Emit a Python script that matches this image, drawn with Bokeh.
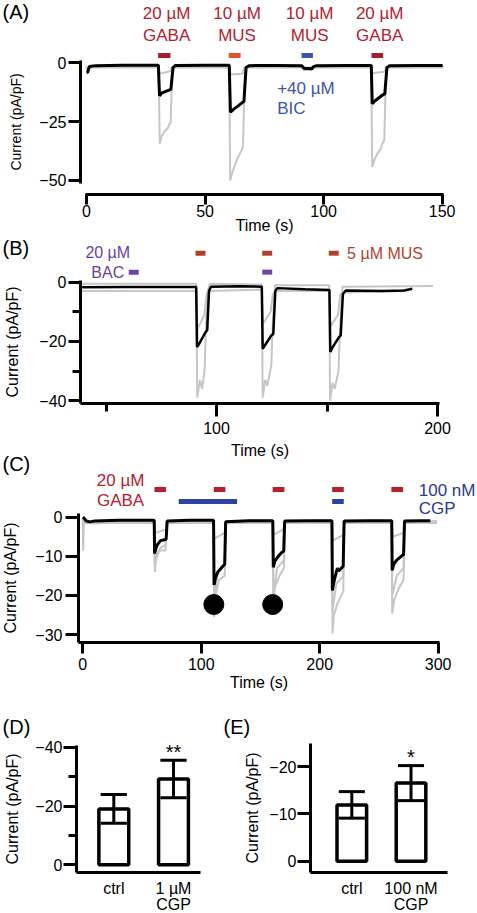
from bokeh.plotting import figure
from bokeh.layouts import column, row
from bokeh.models import Range1d, FixedTicker
from bokeh.core.properties import value
from bokeh.embed import file_html
from bokeh.resources import INLINE

FONT = "Liberation Sans"

# ---------------- data: panel A ----------------
A_t_black = [0.0, 0.5, 1.2, 4.0, 15.0, 30.3, 30.8, 31.8, 34.8, 35.6, 36.5, 37.5, 50.0,
             60.2, 60.7, 62.0, 65.6, 66.4, 67.3, 68.5, 80.0, 90.8, 91.6, 95.0, 95.8, 97.0,
             110.0, 120.1, 120.5, 121.6, 125.0, 125.8, 126.7, 128.0, 140.0, 150.2]
A_v_black = [-4.2, -4.0, -1.6, -1.2, -1.0, -1.0, -14.0, -12.8, -11.6, -11.2, -2.0, -1.1, -1.0,
             -1.0, -21.0, -19.8, -17.0, -16.4, -2.0, -1.2, -1.1, -1.2, -2.3, -2.5, -1.6, -1.2,
             -1.1, -1.1, -17.4, -16.2, -13.6, -13.2, -2.0, -1.2, -1.1, -1.1]
A_t_gray1 = [0.0, 0.3, 1.0, 15.0, 30.4, 30.9, 31.5, 33.0, 34.5, 34.9, 35.5, 36.1, 36.8, 50.0,
             60.2, 60.6, 61.5, 63.5, 65.5, 66.0, 66.8, 67.6, 80.0, 90.8, 91.6, 95.2, 96.0,
             110.0, 120.1, 120.5, 121.5, 123.0, 124.2, 124.6, 125.6, 126.3, 127.0, 140.0, 150.5]
A_v_gray1 = [-1.5, -3.0, -1.8, -1.7, -1.7, -34.4, -31.5, -29.0, -27.5, -26.0, -25.6, -3.0, -1.8, -1.7,
             -1.8, -50.0, -46.5, -41.0, -37.0, -35.5, -3.0, -1.9, -1.8, -1.8, -3.2, -3.0, -1.9,
             -1.8, -1.8, -44.3, -41.0, -38.0, -36.5, -34.5, -33.0, -3.0, -1.9, -1.8, -1.8]
A_t_gray2 = [0.0, 30.4, 31.0, 35.3, 36.0, 60.2, 60.8, 65.8, 66.6, 120.1, 120.7, 125.6, 126.3, 150.5]
A_v_gray2 = [-2.0, -2.0, -4.6, -3.6, -2.0, -2.0, -5.0, -4.6, -2.0, -2.0, -4.4, -3.8, -2.0, -2.0]
A_stim_start = [30.2, 60.0, 90.7, 120.2]
A_stim_end = [35.4, 65.0, 95.5, 125.1]
A_stim_line1 = ["20 µM", "10 µM", "10 µM", "20 µM"]
A_stim_line2 = ["GABA", "MUS", "MUS", "GABA"]
A_bic_text = ["+40 µM", "BIC"]
A_xticks = [0, 50, 100, 150]
A_yticks = [-50, -25, 0]

# ---------------- data: panel B ----------------
B_t_black = [39.2, 60.0, 90.8, 91.2, 92.0, 95.0, 95.8, 96.6, 97.5, 110.0, 120.5, 120.9, 122.0,
             124.8, 125.7, 126.6, 127.5, 140.0, 151.1, 151.5, 152.5, 155.4, 156.2, 157.2, 158.5,
             175.0, 185.0, 188.6]
B_v_black = [-1.7, -1.6, -1.6, -21.9, -21.0, -16.9, -16.2, -3.0, -1.5, -1.4, -1.5, -22.5, -21.2,
             -18.0, -17.5, -3.0, -2.0, -2.4, -2.6, -23.6, -22.0, -18.6, -18.0, -4.0, -2.8,
             -3.0, -2.8, -2.2]
B_t_gray1 = [39.0, 90.8, 91.3, 92.5, 93.5, 94.6, 95.3, 96.0, 97.0, 120.5, 120.9, 122.0, 123.0,
             124.8, 125.5, 126.5, 151.0, 151.4, 152.5, 153.5, 155.2, 156.0, 157.0, 198.0]
B_v_gray1 = [-0.5, -0.5, -39.0, -33.0, -36.0, -29.8, -13.0, -3.0, -0.5, -0.8, -39.0, -33.0, -35.0,
             -28.0, -13.0, -1.0, -1.0, -40.0, -34.0, -36.0, -30.0, -14.0, -1.5, -1.3]
B_t_gray2 = [39.0, 90.8, 91.3, 94.5, 95.5, 96.5, 120.5, 121.0, 124.5, 125.5, 126.5, 151.0, 151.5,
             155.0, 156.0, 158.0, 185.0]
B_v_gray2 = [-3.0, -3.0, -16.0, -11.0, -4.0, -3.0, -2.5, -14.0, -10.0, -4.0, -3.0, -3.0, -15.0,
             -11.0, -4.0, -3.5, -3.0]
B_mus_start = [90.5, 120.7, 150.8]
B_mus_end = [95.0, 125.2, 155.3]
B_bac_start = [60.3, 120.7]
B_bac_end = [64.8, 125.2]
B_xticks = [100, 200]
B_xminor = [50, 150]
B_yticks = [-40, -20, 0]
B_yminor = [-30, -10]

# ---------------- data: panel C ----------------
C_t_black = [0.0, 0.8, 3.0, 6.0, 10.0, 30.0, 60.3, 60.6, 61.5, 63.0, 65.6, 69.8, 70.4, 71.2, 90.0,
             110.4, 110.8, 112.0, 114.0, 119.0, 119.8, 120.6, 140.0, 160.4, 160.8, 162.0, 165.0,
             168.3, 169.6, 170.4, 190.0, 210.3, 210.7, 212.0, 214.0, 215.0, 216.0, 219.0, 219.8,
             220.6, 240.0, 260.8, 261.2, 262.5, 265.0, 269.5, 270.8, 271.6, 285.0, 293.4]
C_v_black = [0.0, -0.2, -1.0, -1.2, -1.0, -0.8, -0.8, -9.3, -8.2, -7.0, -6.0, -5.7, -5.5, -1.0, -0.8,
             -0.8, -17.3, -15.5, -14.0, -12.3, -12.0, -1.2, -0.9, -0.9, -12.8, -11.3, -10.0,
             -8.9, -8.7, -1.0, -0.9, -0.9, -18.7, -16.5, -14.0, -13.0, -13.7, -12.8, -12.5,
             -1.0, -0.9, -0.9, -13.6, -12.0, -11.0, -9.8, -9.6, -1.0, -0.9, -0.9]
C_t_gray1 = [0.0, 0.3, 0.8, 10.0, 30.0, 60.3, 60.8, 62.0, 64.0, 69.8, 70.6, 110.4, 110.9, 112.0,
             115.0, 119.8, 120.6, 160.4, 160.9, 162.0, 166.0, 169.8, 170.6, 210.4, 210.8, 212.0,
             215.0, 219.9, 220.6, 260.8, 261.2, 263.0, 267.0, 270.8, 271.6, 299.0]
C_v_gray1 = [-0.5, -8.5, -1.5, -1.6, -1.2, -1.0, -14.0, -10.0, -8.5, -8.5, -1.5, -1.0, -25.5, -20.0,
             -16.0, -15.0, -1.5, -1.0, -24.0, -18.0, -15.0, -13.0, -1.5, -1.0, -29.7, -25.0,
             -22.0, -19.0, -1.5, -1.0, -24.6, -21.0, -18.0, -16.0, -1.5, -1.0]
C_t_gray2 = [0.0, 60.3, 60.8, 65.0, 70.0, 70.6, 110.4, 110.9, 114.0, 119.8, 120.6, 160.4, 160.9,
             164.0, 169.8, 170.6, 210.4, 210.8, 214.0, 219.9, 220.6, 260.8, 261.2, 265.0, 270.8,
             271.6, 299.0]
C_v_gray2 = [-1.2, -1.2, -12.0, -8.0, -7.0, -1.2, -1.2, -21.0, -14.0, -12.0, -1.2, -1.2, -20.0,
             -13.0, -11.0, -1.2, -1.2, -24.0, -17.0, -15.0, -1.2, -1.2, -20.0, -15.0, -13.0,
             -1.2, -1.2]
C_t_gray3 = [0.0, 60.3, 61.0, 70.0, 70.6, 110.4, 111.0, 119.8, 120.6, 160.4, 161.0, 169.8, 170.6,
             210.4, 211.0, 219.9, 220.6, 260.8, 261.4, 270.8, 271.6, 299.0]
C_v_gray3 = [-1.5, -1.5, -4.0, -3.2, -1.5, -1.5, -5.5, -4.0, -1.5, -1.5, -4.5, -3.0, -1.5,
             -1.5, -6.0, -4.5, -1.5, -1.5, -5.0, -4.0, -1.5, -1.5]
C_gaba_start = [60.5, 110.6, 160.3, 210.5, 260.5]
C_gaba_end = [70.3, 120.4, 170.2, 220.3, 270.4]
C_cgp_start = [81.0, 210.5]
C_cgp_end = [130.3, 220.3]
C_dot_t = [110.6, 160.3]
C_dot_v = [-22.3, -22.3]
C_xticks = [0, 100, 200, 300]
C_yticks = [-30, -20, -10, 0]

# ---------------- data: panels D, E ----------------
D_groups = ["ctrl", "1 µM\nCGP"]
D_mean = [-19.0, -29.2]
D_sem = [4.9, 6.4]
D_sig = ["", "**"]
D_yticks = [-40, -20, 0]
D_yminor = [-30, -10]
E_groups = ["ctrl", "100 nM\nCGP"]
E_mean = [-11.9, -16.5]
E_sem = [2.8, 3.7]
E_sig = ["", "*"]
E_yticks = [-20, -10, 0]

GRAY = "#c6c6c6"
RED = "#b3202e"


def make_fig(w, h, xr, yr, yaxis_at, xaxis_at):
    # frame covers the whole canvas; axes are pinned at fixed data locations
    p = figure(width=w, height=h, x_range=Range1d(*xr), y_range=Range1d(*yr),
               min_border_left=0, min_border_right=0, min_border_top=0, min_border_bottom=0,
               toolbar_location=None, output_backend="svg", title=None)
    p.xgrid.visible = False
    p.ygrid.visible = False
    p.outline_line_color = None
    p.background_fill_color = None
    p.border_fill_color = None
    p.yaxis.fixed_location = yaxis_at
    p.xaxis.fixed_location = xaxis_at
    for ax in (p.xaxis[0], p.yaxis[0]):
        ax.axis_line_width = 3
        ax.axis_line_color = "black"
        ax.major_tick_line_width = 3
        ax.minor_tick_line_width = 3
        ax.major_tick_line_color = "black"
        ax.minor_tick_line_color = "black"
        ax.major_tick_in = 0
        ax.minor_tick_in = 0
        ax.major_label_text_font = FONT
        ax.major_label_text_font_size = "16px"
        ax.major_label_text_color = "black"
        ax.axis_label_text_font = FONT
        ax.axis_label_text_font_style = "normal"
        ax.axis_label_text_font_size = "16px"
        ax.axis_label_text_color = "black"
    return p


def txt(p, xs, ys, texts, color, size="17px", align="center"):
    p.text(x=xs, y=ys, text=texts, text_font=value(FONT), text_font_size=size,
           text_align=align, text_baseline="middle", text_color=color)


def panel_label(p, x, y, lab):
    txt(p, [x], [y], [lab], "black", size="20px", align="left")


# ================= Panel A =================
pA = make_fig(477, 250, (-36.27, 164.9), (-79.74, 26.47), -2.53, -55.95)
pA.xaxis.ticker = FixedTicker(ticks=A_xticks)
pA.yaxis.ticker = FixedTicker(ticks=A_yticks)
pA.xaxis.bounds = (-0.4, 150.5)
pA.yaxis.bounds = (-51.3, 1.0)
pA.xaxis.major_tick_out = 10
pA.yaxis.major_tick_out = 12
pA.xaxis.major_label_standoff = 0
pA.yaxis.major_label_standoff = 2
pA.xaxis.axis_label = "Time (s)"
pA.yaxis.axis_label = "Current (pA/pF)"
pA.yaxis.axis_label_text_font_size = "14px"
pA.xaxis.axis_label_standoff = -3
pA.yaxis.axis_label_standoff = 12
pA.line(A_t_gray2, A_v_gray2, line_color=GRAY, line_width=2)
pA.line(A_t_gray1, A_v_gray1, line_color=GRAY, line_width=2)
pA.line(A_t_black, A_v_black, line_color="black", line_width=3)
A_mid = [(a + b) / 2 for a, b in zip(A_stim_start, A_stim_end)]
pA.segment(x0=A_stim_start, x1=A_stim_end, y0=[3.1] * 4, y1=[3.1] * 4,
           line_color=["#a51e29", "#e2532c", "#3a55b0", "#a51e29"], line_width=5)
txt(pA, [m + 1 for m in A_mid], [20.8] * 4, A_stim_line1, RED)
txt(pA, [m + 1 for m in A_mid], [11.6] * 4, A_stim_line2, RED)
txt(pA, [A_stim_start[2] - 10.3] * 2, [-10.9, -19.4], A_bic_text, "#3f55a8", align="left")
panel_label(pA, -35.4, 21.4, "(A)")

# ================= Panel B =================
pB = make_fig(477, 230, (2.26, 218.1), (-62.26, 15.44), 38.46, -40.88)
pB.margin = (-14, 0, 0, 0)
pB.xaxis.ticker = FixedTicker(ticks=B_xticks, minor_ticks=B_xminor)
pB.yaxis.ticker = FixedTicker(ticks=B_yticks, minor_ticks=B_yminor)
pB.xaxis.bounds = (38.46, 201.0)
pB.yaxis.bounds = (-40.88, 0.6)
pB.xaxis.major_tick_out = 13
pB.xaxis.minor_tick_out = 8
pB.yaxis.major_tick_out = 12
pB.yaxis.minor_tick_out = 8
pB.xaxis.major_label_standoff = 6
pB.yaxis.major_label_standoff = 2
pB.xaxis.axis_label = "Time (s)"
pB.yaxis.axis_label = "Current (pA/pF)"
pB.xaxis.axis_label_standoff = 4
pB.yaxis.axis_label_standoff = 15
pB.line(B_t_gray2, B_v_gray2, line_color=GRAY, line_width=2)
pB.line(B_t_gray1, B_v_gray1, line_color=GRAY, line_width=2)
pB.line(B_t_black, B_v_black, line_color="black", line_width=2.5)
pB.segment(x0=B_mus_start, x1=B_mus_end, y0=[9.8] * 3, y1=[9.8] * 3, line_color="#b0402a", line_width=5)
pB.segment(x0=B_bac_start, x1=B_bac_end, y0=[3.4] * 2, y1=[3.4] * 2, line_color="#7042a8", line_width=5)
txt(pB, [B_bac_start[0] - 9.5] * 2, [10.1, 3.4], ["20 µM", "BAC"], "#6a40a6", size="16px")
txt(pB, [B_mus_end[2] + 3.8], [9.8], ["5 µM MUS"], "#b0432c", size="16px", align="left")
panel_label(pB, 3.2, 11.4, "(B)")

# ================= Panel C =================
pC = make_fig(477, 250, (-69.47, 333.2), (-46.81, 17.02), -3.63, -32.0)
pC.margin = (-16, 0, 0, 0)
pC.xaxis.ticker = FixedTicker(ticks=C_xticks)
pC.yaxis.ticker = FixedTicker(ticks=C_yticks)
pC.xaxis.bounds = (-3.63, 301.3)
pC.yaxis.bounds = (-32.0, 0.9)
pC.xaxis.major_tick_out = 11
pC.yaxis.major_tick_out = 13
pC.xaxis.major_label_standoff = 5
pC.yaxis.major_label_standoff = 3
pC.xaxis.axis_label = "Time (s)"
pC.yaxis.axis_label = "Current (pA/pF)"
pC.xaxis.axis_label_standoff = 0
pC.yaxis.axis_label_standoff = 13
pC.line(C_t_gray3, C_v_gray3, line_color=GRAY, line_width=2)
pC.line(C_t_gray2, C_v_gray2, line_color=GRAY, line_width=2)
pC.line(C_t_gray1, C_v_gray1, line_color=GRAY, line_width=2)
pC.line(C_t_black, C_v_black, line_color="black", line_width=3)
pC.scatter(C_dot_t, C_dot_v, size=20, color="black")
pC.segment(x0=C_gaba_start, x1=C_gaba_end, y0=[7.07] * 5, y1=[7.07] * 5, line_color="#b5202a", line_width=5)
pC.segment(x0=C_cgp_start, x1=C_cgp_end, y0=[4.0] * 2, y1=[4.0] * 2, line_color="#2b43a3", line_width=5)
txt(pC, [C_gaba_start[0] - 28.6] * 2, [9.36, 4.26], ["20 µM", "GABA"], RED)
txt(pC, [C_gaba_end[4] + 13.2] * 2, [6.8, 2.2], ["100 nM", "CGP"], "#2b3990", align="left")
panel_label(pC, -67.8, 13.7, "(C)")


# ================= Panels D, E =================
def bar_panel(w, xr, yr, yaxis_at, xaxis_at, groups, mean, sem, sig, yticks, yminor,
              ybounds, xbounds, cap, label_std, lab, lab_xy):
    p = make_fig(w, 213, xr, yr, yaxis_at, xaxis_at)
    xs = [1, 2]
    p.xaxis.ticker = FixedTicker(ticks=xs)
    p.xaxis.major_label_overrides = {1: groups[0], 2: groups[1]}
    p.xaxis.major_tick_out = 0
    p.xaxis.major_label_standoff = 8
    p.xaxis.major_label_text_line_height = 0.9
    p.xaxis.bounds = xbounds
    p.yaxis.ticker = FixedTicker(ticks=yticks, minor_ticks=yminor)
    p.yaxis.bounds = ybounds
    p.yaxis.major_tick_out = 13
    p.yaxis.minor_tick_out = 8
    p.yaxis.major_label_standoff = 1
    p.yaxis.axis_label = "Current (pA/pF)"
    p.yaxis.axis_label_standoff = label_std
    p.vbar(x=xs, top=mean, bottom=0, width=0.5, fill_color="white",
           line_color="black", line_width=3.5)
    lo = [m + s for m, s in zip(mean, sem)]
    hi = [m - s for m, s in zip(mean, sem)]
    p.segment(x0=xs, x1=xs, y0=lo, y1=hi, line_color="black", line_width=3)
    p.segment(x0=[x - cap for x in xs], x1=[x + cap for x in xs], y0=hi, y1=hi,
              line_color="black", line_width=3)
    p.segment(x0=[x - cap for x in xs], x1=[x + cap for x in xs], y0=lo, y1=lo,
              line_color="black", line_width=3)
    span = abs(yr[1] - yr[0])
    p.text(x=xs, y=[h - span * 0.04 for h in hi], text=sig, text_font=value(FONT),
           text_font_size="20px", text_align="center", text_baseline="middle", text_color="black")
    panel_label(p, lab_xy[0], lab_xy[1], lab)
    return p


pD = bar_panel(222, (-0.898, 2.821), (16.56, -55.88), 0.375, 2.52, D_groups, D_mean, D_sem, D_sig,
               D_yticks, D_yminor, (2.52, -40.6), (0.375, 2.45), 0.22, 11, "(D)", (-0.864, -46.7))
pE = bar_panel(255, (-1.184, 3.123), (11.04, -33.95), 0.302, 2.32, E_groups, E_mean, E_sem, E_sig,
               E_yticks, [], (2.32, -24.9), (0.302, 2.61), 0.22, 5, "(E)", (-1.167, -28.25))

root = column(pA, pB, pC, row(pD, pE))
open("out.html", "w").write(file_html(root, INLINE))
